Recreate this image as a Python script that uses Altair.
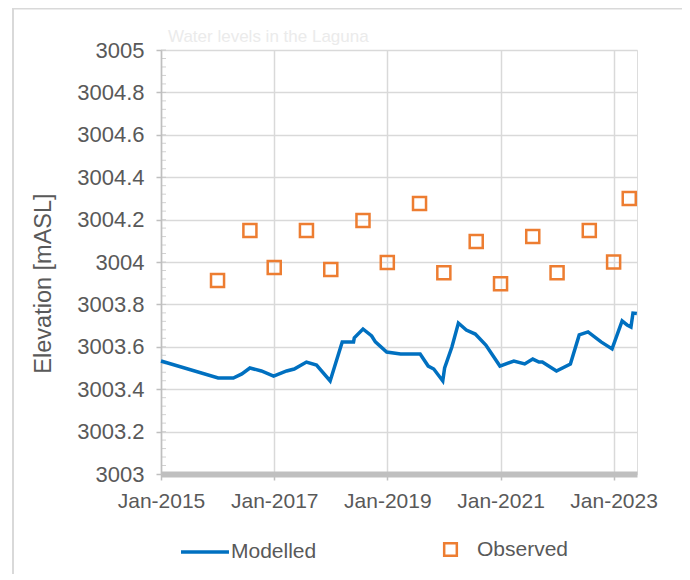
import altair as alt
import pandas as pd

# Modelled water level (line)
model_dates = [
    "2015-01-01", "2016-01-05", "2016-04-12", "2016-06-06", "2016-07-28",
    "2016-10-10", "2016-12-28", "2017-03-22", "2017-05-10", "2017-07-28",
    "2017-10-01", "2017-12-28", "2018-03-16", "2018-05-28", "2018-06-02",
    "2018-07-28", "2018-09-22", "2018-10-16", "2018-12-28", "2019-03-28",
    "2019-08-01", "2019-09-22", "2019-10-28", "2019-12-25", "2020-01-06",
    "2020-02-22", "2020-04-04", "2020-05-25", "2020-07-22", "2020-09-28",
    "2020-12-28", "2021-03-28", "2021-06-06", "2021-07-28", "2021-09-06",
    "2021-09-28", "2021-12-28", "2022-03-28", "2022-05-24", "2022-07-20",
    "2022-10-12", "2022-12-22", "2023-02-25", "2023-03-29", "2023-04-23",
    "2023-05-06", "2023-05-31",
]
model_values = [
    3003.533, 3003.453, 3003.453, 3003.472, 3003.500,
    3003.486, 3003.462, 3003.486, 3003.495, 3003.528,
    3003.514, 3003.439, 3003.623, 3003.623, 3003.642,
    3003.684, 3003.651, 3003.623, 3003.575, 3003.566,
    3003.566, 3003.509, 3003.495, 3003.439, 3003.500,
    3003.599, 3003.712, 3003.679, 3003.660, 3003.608,
    3003.509, 3003.533, 3003.519, 3003.542, 3003.528,
    3003.528, 3003.486, 3003.519, 3003.656, 3003.670,
    3003.623, 3003.590, 3003.722, 3003.703, 3003.693,
    3003.759, 3003.757,
]

# Observed water level (squares)
obs_dates = [
    "2016-01-01", "2016-07-28", "2017-01-01", "2017-07-28", "2018-01-01",
    "2018-07-28", "2019-01-01", "2019-07-28", "2020-01-01", "2020-07-28",
    "2021-01-01", "2021-07-28", "2022-01-01", "2022-07-28", "2023-01-01",
    "2023-04-12",
]
obs_values = [
    3003.913, 3004.149, 3003.974, 3004.149, 3003.965,
    3004.196, 3003.998, 3004.276, 3003.949, 3004.097,
    3003.897, 3004.120, 3003.949, 3004.149, 3004.000,
    3004.300,
]

chart_title = ["Water levels in the Laguna"]
x_tick_dates = ["2015-01-01", "2017-01-01", "2019-01-01", "2021-01-01", "2023-01-01"]
y_tick_values = [3003.0, 3003.2, 3003.4, 3003.6, 3003.8, 3004.0,
                 3004.2, 3004.4, 3004.6, 3004.8, 3005.0]
y_minor_values = [round(3003 + 0.04 * i, 2) for i in range(51)]

FONT = "Liberation Sans"
TEXT = "#595959"
GRID = "#d9d9d9"
AXIS = "#bfbfbf"
BLUE = "#0070C0"
ORANGE = "#ED7D31"

model_df = pd.DataFrame({"date": pd.to_datetime(model_dates),
                         "value": model_values, "series": "Modelled"})
obs_df = pd.DataFrame({"date": pd.to_datetime(obs_dates),
                       "value": obs_values, "series": "Observed"})
minor_df = pd.DataFrame({"value": y_minor_values})
title_df = pd.DataFrame({"text": chart_title})

x_scale = alt.Scale(domain=[pd.Timestamp("2015-01-01").isoformat(),
                            pd.Timestamp("2023-06-01").isoformat()],
                    nice=False)
y_scale = alt.Scale(domain=[3003, 3005], nice=False, zero=False)

x_axis = alt.Axis(
    title=None, values=[pd.Timestamp(d).isoformat() for d in x_tick_dates],
    format="%b-%Y", labelFont=FONT, labelFontSize=21, labelColor=TEXT,
    labelPadding=10, tickSize=6, tickColor=AXIS, tickWidth=1.5,
    domainColor=AXIS, domainWidth=6, gridColor=GRID, gridWidth=1.5,
    labelFlush=False, labelOverlap=False,
)
y_axis = alt.Axis(
    title="Elevation [mASL]", values=y_tick_values, format=".1~f",
    labelFont=FONT, labelFontSize=22, labelColor=TEXT, labelPadding=12,
    tickSize=5, tickColor=AXIS, tickWidth=1.5, domainColor=AXIS,
    domainWidth=1.5, gridColor=GRID, gridWidth=1.5,
    titleFont=FONT, titleFontSize=23.5, titleFontWeight="normal",
    titleColor=TEXT, titleX=-118, titleY=233, titleAngle=-90,
    titleAlign="center", titleBaseline="middle",
    labelFlush=False, labelOverlap=False,
)

line = alt.Chart(model_df).mark_line(strokeWidth=3.5, color=BLUE).encode(
    x=alt.X("date:T", scale=x_scale, axis=x_axis),
    y=alt.Y("value:Q", scale=y_scale, axis=y_axis),
    stroke=alt.Stroke(
        "series:N",
        scale=alt.Scale(domain=["Modelled"], range=[BLUE]),
        legend=alt.Legend(
            title=None, orient="none", legendX=18, legendY=476,
            symbolType="stroke", symbolSize=2300, symbolStrokeWidth=3.5,
            labelFont=FONT, labelFontSize=21, labelColor=TEXT, labelOffset=0,
        ),
    ),
)

points = alt.Chart(obs_df).mark_point(
    filled=False, color=ORANGE, stroke=ORANGE, strokeWidth=2.5, size=170,
    opacity=1,
).encode(
    x="date:T",
    y="value:Q",
    shape=alt.Shape(
        "series:N",
        scale=alt.Scale(domain=["Observed"], range=["square"]),
        legend=alt.Legend(
            title=None, orient="none", legendX=279, legendY=489,
            symbolStrokeColor=ORANGE, symbolFillColor="white",
            symbolStrokeWidth=2.5, symbolSize=160,
            labelFont=FONT, labelFontSize=21, labelColor=TEXT, labelOffset=16,
        ),
    ),
)

minor = alt.Chart(minor_df).mark_tick(
    orient="horizontal", size=5, thickness=1, color=AXIS
).encode(
    y="value:Q",
    x=alt.value(2.5),
)

title_text = alt.Chart(title_df).mark_text(
    font=FONT, fontSize=17, color="#ebebeb", align="left",
    baseline="alphabetic",
).encode(text="text:N", x=alt.value(7), y=alt.value(-8))

frame = alt.Chart(pd.DataFrame({"k": [0]}))
border_left = frame.mark_rule(color=GRID, strokeWidth=2).encode(
    x=alt.value(-148), y=alt.value(-42), y2=alt.value(540))
border_top = frame.mark_rect(color=GRID, opacity=1).encode(
    x=alt.value(-149), x2=alt.value(540), y=alt.value(-42),
    y2=alt.value(-40.5))

chart = alt.layer(border_left, border_top, title_text, minor, line,
                  points).properties(
    width=476, height=424,
    autosize=alt.AutoSizeParams(type="none"),
    padding={"left": 153, "top": 42, "right": 45, "bottom": 100},
).resolve_scale(stroke="independent", shape="independent").configure_view(
    stroke=GRID, strokeWidth=1.5
).configure(background="white")

chart.save("out.html", embed_options={"renderer": "svg", "actions": False})
